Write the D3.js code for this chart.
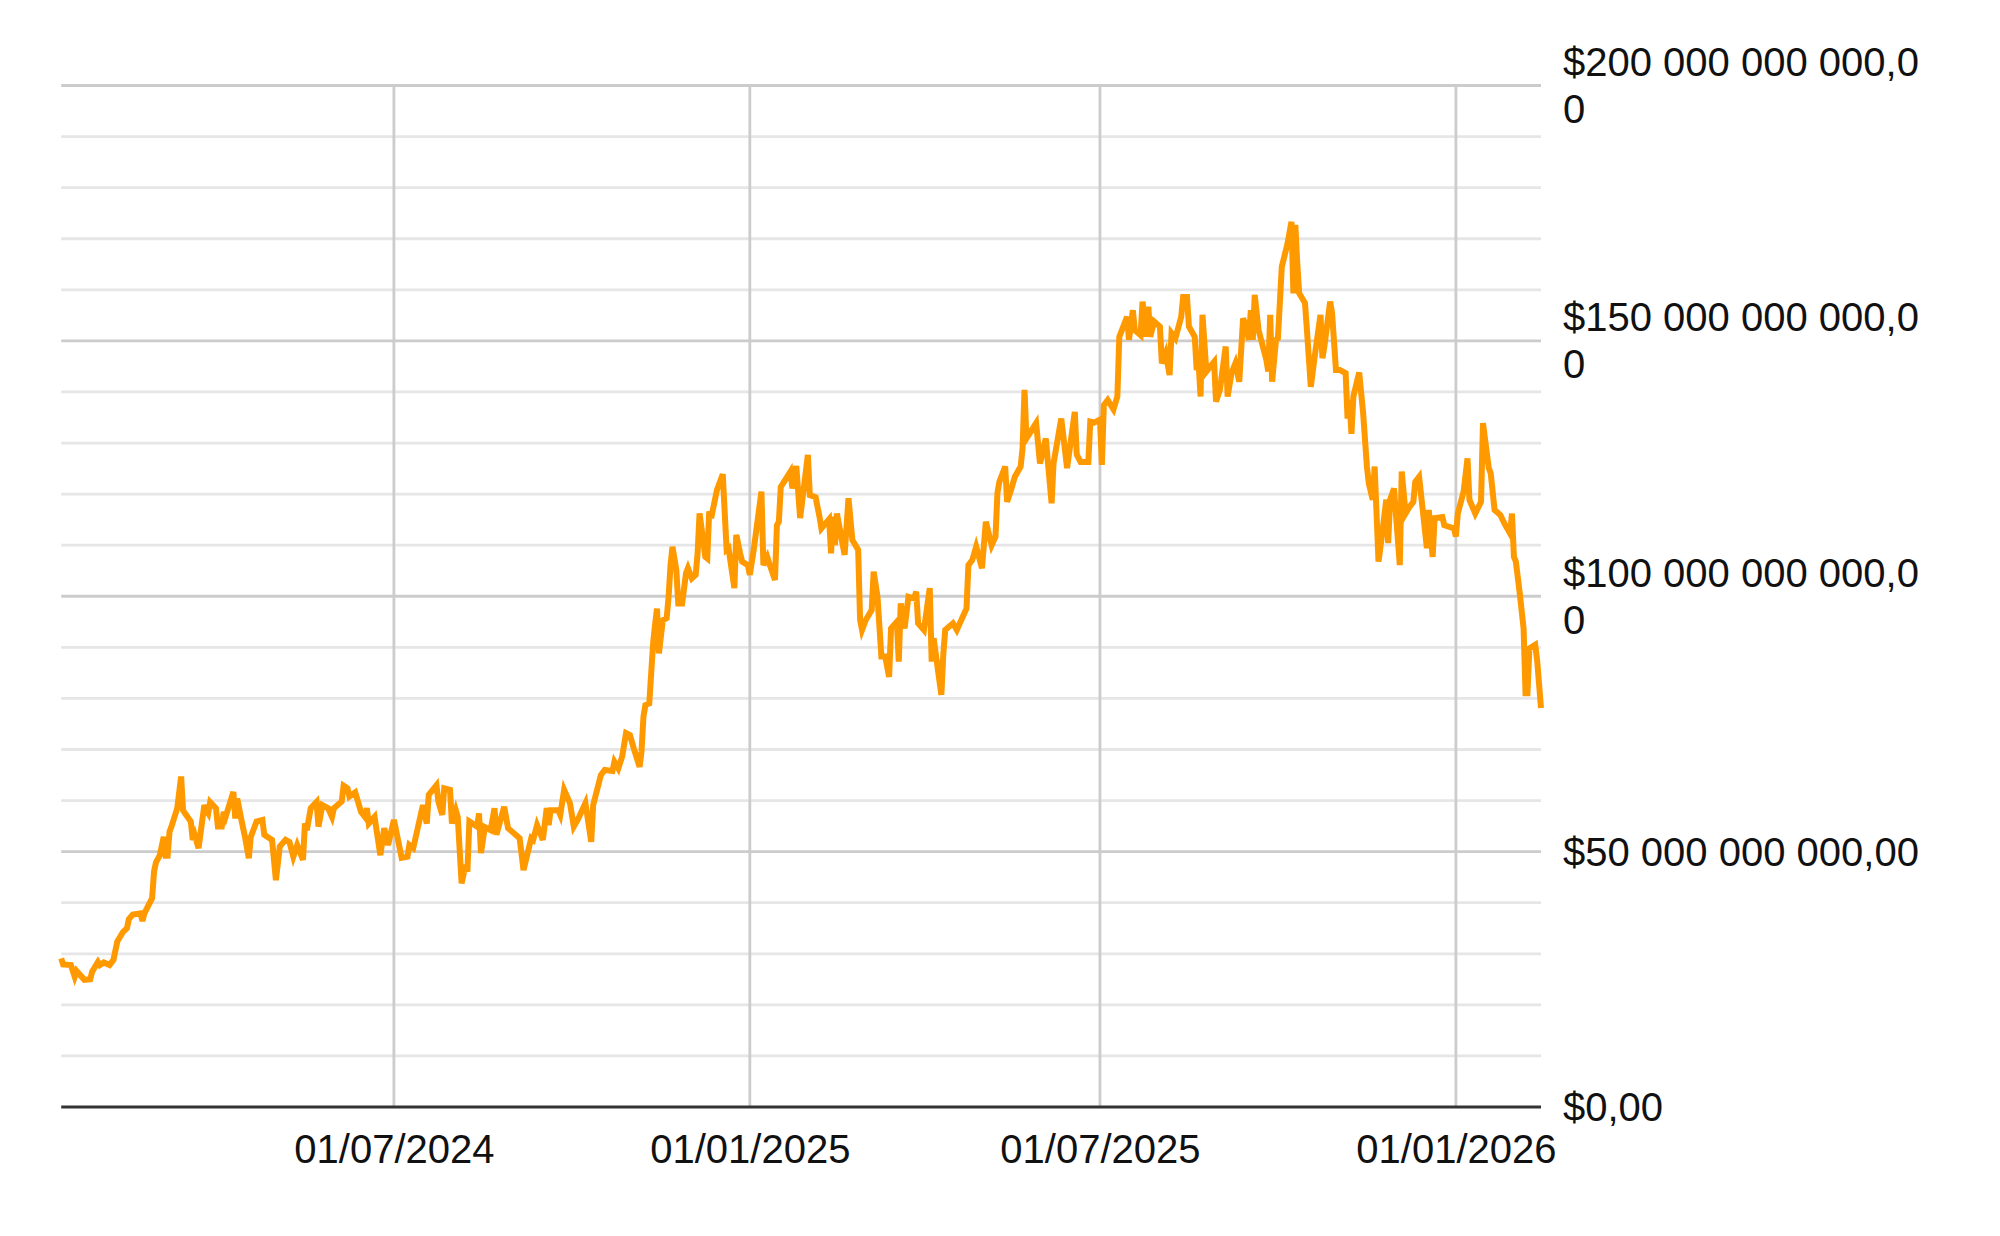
<!DOCTYPE html>
<html>
<head>
<meta charset="utf-8">
<script src="https://cdnjs.cloudflare.com/ajax/libs/d3/7.8.5/d3.min.js"></script>
<style>
body{margin:0;background:#fff;}
svg{display:block;font-family:"Liberation Sans",Arial,sans-serif;}
</style>
</head>
<body>
<div id="chart"></div>
<script>
// daily readings, market cap in billions of $
var dates = [
"2024-01-11","2024-01-12","2024-01-16","2024-01-18","2024-01-19","2024-01-23","2024-01-26","2024-01-27","2024-01-30","2024-01-31",
"2024-02-02","2024-02-05","2024-02-07","2024-02-09","2024-02-12","2024-02-14","2024-02-15","2024-02-17","2024-02-21","2024-02-22","2024-02-23","2024-02-27","2024-02-28","2024-02-29",
"2024-03-02","2024-03-04","2024-03-05","2024-03-06","2024-03-07","2024-03-08","2024-03-11","2024-03-13","2024-03-14","2024-03-15","2024-03-18","2024-03-19","2024-03-20","2024-03-22","2024-03-25","2024-03-26","2024-03-27","2024-03-28","2024-03-31",
"2024-04-01","2024-04-03","2024-04-04","2024-04-05","2024-04-09","2024-04-10","2024-04-11","2024-04-13","2024-04-15","2024-04-17","2024-04-18","2024-04-21","2024-04-24","2024-04-25","2024-04-29",
"2024-05-01","2024-05-03","2024-05-06","2024-05-08","2024-05-10","2024-05-12","2024-05-15","2024-05-16","2024-05-17","2024-05-19","2024-05-22","2024-05-23","2024-05-25","2024-05-28","2024-05-30","2024-05-31",
"2024-06-04","2024-06-05","2024-06-07","2024-06-08","2024-06-11","2024-06-14","2024-06-16","2024-06-17","2024-06-18","2024-06-21","2024-06-24","2024-06-26","2024-06-28",
"2024-07-01","2024-07-05","2024-07-08","2024-07-09","2024-07-11","2024-07-16","2024-07-18","2024-07-19","2024-07-23","2024-07-24","2024-07-26","2024-07-27","2024-07-30","2024-07-31",
"2024-08-02","2024-08-03","2024-08-05","2024-08-07","2024-08-08","2024-08-09","2024-08-13","2024-08-14","2024-08-15","2024-08-17","2024-08-20","2024-08-22","2024-08-23","2024-08-27","2024-08-29",
"2024-09-04","2024-09-06","2024-09-10","2024-09-11","2024-09-13","2024-09-16","2024-09-18","2024-09-19","2024-09-20","2024-09-24","2024-09-25","2024-09-27","2024-09-30",
"2024-10-02","2024-10-04","2024-10-08","2024-10-11","2024-10-12","2024-10-16","2024-10-18","2024-10-22","2024-10-23","2024-10-25","2024-10-27","2024-10-29","2024-10-31",
"2024-11-02","2024-11-05","2024-11-06","2024-11-07","2024-11-08","2024-11-10","2024-11-12","2024-11-13","2024-11-14","2024-11-15","2024-11-17","2024-11-19","2024-11-20","2024-11-21","2024-11-22","2024-11-24","2024-11-25","2024-11-27","2024-11-29","2024-11-30",
"2024-12-02","2024-12-04","2024-12-05","2024-12-06","2024-12-09","2024-12-10","2024-12-11","2024-12-12","2024-12-15","2024-12-18","2024-12-20","2024-12-21","2024-12-24","2024-12-25","2024-12-27","2024-12-28","2024-12-31",
"2025-01-01","2025-01-03","2025-01-07","2025-01-08","2025-01-10","2025-01-11","2025-01-14","2025-01-15","2025-01-16","2025-01-17","2025-01-22","2025-01-23","2025-01-25","2025-01-27","2025-01-31",
"2025-02-01","2025-02-04","2025-02-06","2025-02-07","2025-02-11","2025-02-12","2025-02-13","2025-02-14","2025-02-15","2025-02-19","2025-02-21","2025-02-23","2025-02-26","2025-02-27","2025-02-28",
"2025-03-02","2025-03-05","2025-03-06","2025-03-08","2025-03-10","2025-03-12","2025-03-14","2025-03-15","2025-03-18","2025-03-19","2025-03-20","2025-03-22","2025-03-24","2025-03-27","2025-03-28","2025-03-29",
"2025-04-01","2025-04-04","2025-04-05","2025-04-06","2025-04-10","2025-04-11","2025-04-12","2025-04-16","2025-04-18","2025-04-23","2025-04-24","2025-04-26","2025-04-28",
"2025-05-01","2025-05-03","2025-05-06","2025-05-08","2025-05-09","2025-05-10","2025-05-13","2025-05-14","2025-05-16","2025-05-18","2025-05-21","2025-05-22","2025-05-23","2025-05-24","2025-05-29","2025-05-31",
"2025-06-03","2025-06-06","2025-06-07","2025-06-11","2025-06-14","2025-06-18","2025-06-19","2025-06-21","2025-06-25","2025-06-26","2025-06-28",
"2025-07-01","2025-07-02","2025-07-03","2025-07-05","2025-07-08","2025-07-10","2025-07-11","2025-07-15","2025-07-16","2025-07-18","2025-07-19","2025-07-22","2025-07-23","2025-07-25","2025-07-26","2025-07-27","2025-07-29",
"2025-08-01","2025-08-02","2025-08-04","2025-08-06","2025-08-07","2025-08-09","2025-08-12","2025-08-13","2025-08-15","2025-08-16","2025-08-19","2025-08-20","2025-08-21","2025-08-22","2025-08-23","2025-08-25","2025-08-29","2025-08-30",
"2025-09-01","2025-09-04","2025-09-05","2025-09-07","2025-09-09","2025-09-11","2025-09-13","2025-09-14","2025-09-16","2025-09-17","2025-09-18","2025-09-19","2025-09-21","2025-09-25","2025-09-26","2025-09-27","2025-09-28","2025-09-30",
"2025-10-01","2025-10-03","2025-10-06","2025-10-08","2025-10-09","2025-10-10","2025-10-11","2025-10-12","2025-10-15","2025-10-16","2025-10-18","2025-10-20","2025-10-23","2025-10-24","2025-10-25","2025-10-28","2025-10-29","2025-10-31",
"2025-11-02","2025-11-05","2025-11-06","2025-11-07","2025-11-08","2025-11-09","2025-11-12","2025-11-14","2025-11-16","2025-11-17","2025-11-19","2025-11-20","2025-11-22","2025-11-24","2025-11-26","2025-11-27","2025-11-28","2025-11-30",
"2025-12-03","2025-12-04","2025-12-06","2025-12-08","2025-12-10","2025-12-11","2025-12-13","2025-12-17","2025-12-18","2025-12-20","2025-12-21","2025-12-25","2025-12-26","2025-12-31",
"2026-01-01","2026-01-02","2026-01-05","2026-01-07","2026-01-08","2026-01-11","2026-01-14","2026-01-15","2026-01-18","2026-01-19","2026-01-21","2026-01-24","2026-01-26","2026-01-29","2026-01-30","2026-01-31",
"2026-02-01","2026-02-03","2026-02-05","2026-02-06","2026-02-07","2026-02-08","2026-02-11","2026-02-12","2026-02-14"
];

var capBillions = [
29.1,27.9,27.8,25.5,26.6,24.9,25.0,26.5,28.4,27.8,
28.3,27.8,28.8,32.4,34.3,35.0,36.8,37.7,37.9,36.4,37.9,40.9,46.1,47.9,
49.3,52.9,49.2,49.2,53.9,54.9,58.5,64.7,58.1,57.5,55.9,52.3,53.3,50.7,59.1,58.1,57.5,59.7,58.5,
54.9,54.9,57.8,56.8,61.7,56.5,60.4,56.5,52.9,48.7,52.9,55.9,56.2,53.3,52.3,
44.4,51.0,52.3,51.9,49.0,51.3,48.4,55.5,54.2,58.5,59.7,54.9,59.1,58.5,56.8,58.5,
59.8,62.9,62.4,60.8,61.6,57.8,56.8,58.5,55.5,56.8,49.3,54.6,51.3,
56.2,48.8,49.0,51.3,50.7,59.1,55.5,61.1,63.0,59.8,57.2,62.4,62.1,55.5,
58.1,56.8,43.8,47.4,46.1,55.9,54.9,57.5,49.7,54.8,54.2,58.5,53.3,58.8,54.6,
52.6,46.4,52.6,52.3,55.2,52.3,58.5,55.2,58.1,58.1,57.2,62.1,59.5,
54.9,56.2,59.5,51.9,59.1,65.0,66.0,65.8,67.6,66.3,68.6,73.2,72.8,
70.2,66.6,69.6,76.4,78.7,79.0,90.8,94.4,97.6,88.8,95.3,95.7,99.9,106.1,109.7,105.1,98.6,98.6,104.5,105.5,
103.5,104.2,108.4,116.2,107.7,107.4,116.6,115.3,120.8,123.9,109.1,109.4,101.6,112.0,108.4,106.8,106.1,
104.2,109.1,120.5,106.1,107.7,106.5,103.2,113.9,114.6,121.4,124.4,121.1,125.5,115.3,127.7,
119.8,119.4,115.6,113.3,115.1,108.4,115.6,110.0,116.2,108.1,119.2,111.0,109.1,95.4,93.4,
95.4,97.3,104.8,99.9,88.2,88.2,84.2,93.7,95.0,87.2,98.6,93.7,99.9,99.6,100.9,94.7,
93.4,101.6,87.2,91.8,80.7,88.5,93.4,94.7,93.4,97.6,106.1,107.1,109.7,
105.5,114.6,110.0,111.7,120.2,122.4,125.4,118.5,120.8,123.4,125.4,129.0,140.4,130.9,133.9,126.0,
130.9,118.2,126.0,134.8,125.1,136.1,127.7,126.3,126.3,134.2,134.0,
134.6,125.7,137.4,138.4,136.6,139.1,150.8,154.7,150.2,156.0,152.1,151.1,157.7,150.8,156.7,150.8,153.8,
152.8,145.6,147.6,143.3,151.5,150.5,154.7,158.6,158.6,152.8,150.8,144.3,145.6,139.1,155.1,144.0,145.9,138.1,
140.4,148.9,139.1,143.7,145.6,142.0,154.4,153.4,150.2,156.0,150.2,159.0,152.1,146.3,144.0,155.1,142.0,150.2,
150.5,164.5,169.1,173.3,159.3,172.7,165.2,159.3,157.4,152.1,141.0,146.9,155.1,146.6,148.9,157.7,155.4,144.3,
144.3,143.7,134.8,138.4,131.8,139.1,143.8,136.1,125.4,122.1,118.9,125.4,106.8,112.6,118.9,110.4,118.9,121.1,
106.1,124.4,116.2,117.5,118.5,122.4,123.4,109.4,116.9,107.7,115.3,115.5,113.9,113.3,
111.7,116.2,120.5,127.0,118.9,116.2,118.5,133.9,125.1,124.1,116.9,115.9,114.3,112.3,116.2,107.7,
106.8,100.6,93.7,81.0,81.0,89.8,90.5,87.5,78.1
];

var yTicks = [0, 50, 100, 150, 200];
var yTickLabels = ["$0,00", "$50 000 000 000,00", "$100 000 000 000,00", "$150 000 000 000,00", "$200 000 000 000,00"];
var xTicks = ["2024-07-01", "2025-01-01", "2025-07-01", "2026-01-01"];

var parseDate = d3.timeParse("%Y-%m-%d");
var rows = dates.map(function(d, i){ return { date: parseDate(d), value: capBillions[i] }; });

var W = 2000, H = 1236;
var plot = { left: 61.2, right: 1541, top: 85.5, bottom: 1107 };

var svg = d3.select("#chart").append("svg")
	.attr("width", W).attr("height", H);

svg.append("rect").attr("width", W).attr("height", H).attr("fill", "#fff");

var x = d3.scaleTime()
	.domain(d3.extent(rows, function(d){ return d.date; }))
	.range([plot.left, plot.right]);

var y = d3.scaleLinear()
	.domain([0, 200])
	.range([plot.bottom, plot.top]);

// minor gridlines every 10 bn
svg.append("g").selectAll("line")
	.data(y.ticks(20).filter(function(t){ return yTicks.indexOf(t) < 0; }))
	.enter().append("line")
	.attr("x1", plot.left).attr("x2", plot.right)
	.attr("y1", function(d){ return y(d); }).attr("y2", function(d){ return y(d); })
	.attr("stroke", "#e6e6e6").attr("stroke-width", 2.8);

// major gridlines
svg.append("g").selectAll("line")
	.data(yTicks.slice(1))
	.enter().append("line")
	.attr("x1", plot.left).attr("x2", plot.right)
	.attr("y1", function(d){ return y(d); }).attr("y2", function(d){ return y(d); })
	.attr("stroke", "#cccccc").attr("stroke-width", 2.8);

var xTickDates = xTicks.map(parseDate);

svg.append("g").selectAll("line")
	.data(xTickDates)
	.enter().append("line")
	.attr("x1", function(d){ return x(d); }).attr("x2", function(d){ return x(d); })
	.attr("y1", plot.top).attr("y2", plot.bottom)
	.attr("stroke", "#cccccc").attr("stroke-width", 2.8);

// baseline
svg.append("line")
	.attr("x1", plot.left).attr("x2", plot.right)
	.attr("y1", y(0)).attr("y2", y(0))
	.attr("stroke", "#333").attr("stroke-width", 3.2);

var line = d3.line()
	.x(function(d){ return x(d.date); })
	.y(function(d){ return y(d.value); });

svg.append("path")
	.datum(rows)
	.attr("fill", "none")
	.attr("stroke", "#ff9900")
	.attr("stroke-width", 6)
	.attr("d", line);

// x axis labels
var xAxis = d3.axisBottom(x)
	.tickValues(xTickDates)
	.tickSize(0)
	.tickPadding(28)
	.tickFormat(d3.timeFormat("%d/%m/%Y"));

var gx = svg.append("g")
	.attr("transform", "translate(0," + plot.bottom + ")")
	.call(xAxis);
gx.select(".domain").remove();
gx.selectAll("text").attr("font-size", 40).attr("fill", "#111").attr("font-family", "Liberation Sans, Arial, sans-serif");

// y axis labels, wrapped like the original (break on characters)
var yAxis = d3.axisRight(y)
	.tickValues(yTicks)
	.tickSize(0)
	.tickPadding(22)
	.tickFormat(function(d, i){ return yTickLabels[i]; });

var gy = svg.append("g")
	.attr("transform", "translate(" + plot.right + ",0)")
	.call(yAxis);
gy.select(".domain").remove();
gy.selectAll("text")
	.attr("font-size", 40).attr("fill", "#111")
	.attr("font-family", "Liberation Sans, Arial, sans-serif")
	.attr("dy", null)
	.each(function(){ wrapChars(d3.select(this), 362, 47); });

function wrapChars(text, maxW, lh){
	var str = text.text();
	var tx = text.attr("x");
	text.text(null);
	var lines = [], cur = "";
	var probe = text.append("tspan");
	for (var k = 0; k < str.length; k++){
		probe.text(cur + str[k]);
		if (probe.node().getComputedTextLength() > maxW && cur.length){
			lines.push(cur);
			cur = str[k];
		} else {
			cur += str[k];
		}
	}
	lines.push(cur);
	probe.remove();
	var first = -(lines.length - 1) * lh / 2 + 13.5;
	lines.forEach(function(l, j){
		text.append("tspan")
			.attr("x", tx)
			.attr("dy", j == 0 ? first : lh)
			.text(l);
	});
}
</script>
</body>
</html>
